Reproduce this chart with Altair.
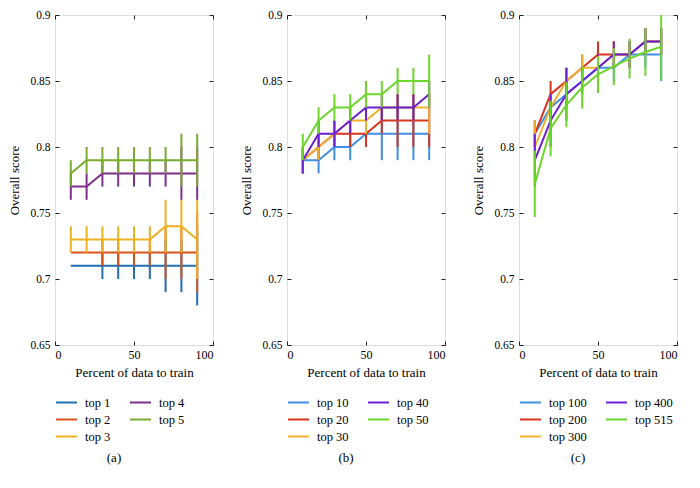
import altair as alt
import pandas as pd

FONT = "Liberation Serif, serif"

x_pct = [10, 20, 30, 40, 50, 60, 70, 80, 90]

# ---------- panel (a)
a_series = ["top 1", "top 2", "top 3", "top 4", "top 5"]
a_colors = ["#1f6fb5", "#d95319", "#edb120", "#7e2f8e", "#77ac30"]
a_mean = {
    "top 1": [0.71, 0.71, 0.71, 0.71, 0.71, 0.71, 0.71, 0.71, 0.71],
    "top 2": [0.72, 0.72, 0.72, 0.72, 0.72, 0.72, 0.72, 0.72, 0.72],
    "top 3": [0.73, 0.73, 0.73, 0.73, 0.73, 0.73, 0.74, 0.74, 0.73],
    "top 4": [0.77, 0.77, 0.78, 0.78, 0.78, 0.78, 0.78, 0.78, 0.78],
    "top 5": [0.78, 0.79, 0.79, 0.79, 0.79, 0.79, 0.79, 0.79, 0.79],
}
a_err = {
    "top 1": [0.0, 0.0, 0.01, 0.01, 0.01, 0.01, 0.02, 0.02, 0.03],
    "top 2": [0.0, 0.0, 0.01, 0.01, 0.01, 0.01, 0.02, 0.02, 0.03],
    "top 3": [0.01, 0.01, 0.01, 0.01, 0.01, 0.01, 0.02, 0.02, 0.03],
    "top 4": [0.01, 0.01, 0.01, 0.01, 0.01, 0.01, 0.01, 0.02, 0.02],
    "top 5": [0.01, 0.01, 0.01, 0.01, 0.01, 0.01, 0.01, 0.02, 0.02],
}

# ---------- panel (b)
b_series = ["top 10", "top 20", "top 30", "top 40", "top 50"]
b_colors = ["#3f8fe4", "#d8331c", "#f0b032", "#6b1fd0", "#6cd62b"]
b_mean = {
    "top 10": [0.79, 0.79, 0.80, 0.80, 0.81, 0.81, 0.81, 0.81, 0.81],
    "top 20": [0.79, 0.80, 0.81, 0.81, 0.81, 0.82, 0.82, 0.82, 0.82],
    "top 30": [0.79, 0.80, 0.81, 0.82, 0.82, 0.83, 0.83, 0.83, 0.83],
    "top 40": [0.79, 0.81, 0.81, 0.82, 0.83, 0.83, 0.83, 0.83, 0.84],
    "top 50": [0.80, 0.82, 0.83, 0.83, 0.84, 0.84, 0.85, 0.85, 0.85],
}
b_err = {
    "top 10": [0.01, 0.01, 0.01, 0.01, 0.01, 0.02, 0.02, 0.02, 0.02],
    "top 20": [0.01, 0.01, 0.01, 0.01, 0.01, 0.01, 0.02, 0.02, 0.02],
    "top 30": [0.01, 0.01, 0.01, 0.01, 0.01, 0.01, 0.01, 0.01, 0.02],
    "top 40": [0.01, 0.01, 0.01, 0.01, 0.01, 0.01, 0.01, 0.01, 0.01],
    "top 50": [0.01, 0.01, 0.01, 0.01, 0.01, 0.01, 0.01, 0.01, 0.02],
}

# ---------- panel (c)
c_series = ["top 100", "top 200", "top 300", "top 400", "top 515"]
c_colors = ["#3f8fe4", "#d8331c", "#f0b032", "#6b1fd0", "#6cd62b"]
c_mean = {
    "top 100": [0.81, 0.83, 0.84, 0.85, 0.86, 0.86, 0.87, 0.87, 0.87],
    "top 200": [0.81, 0.84, 0.85, 0.86, 0.87, 0.87, 0.87, 0.88, 0.88],
    "top 300": [0.80, 0.83, 0.85, 0.86, 0.86, 0.87, 0.87, 0.88, 0.88],
    "top 400": [0.79, 0.82, 0.84, 0.85, 0.86, 0.87, 0.87, 0.88, 0.88],
    "top 515": [0.772, 0.814, 0.832, 0.845, 0.855, 0.861, 0.867, 0.872, 0.876],
}
c_err = {
    "top 100": [0.01, 0.01, 0.01, 0.01, 0.01, 0.01, 0.01, 0.01, 0.02],
    "top 200": [0.01, 0.01, 0.01, 0.01, 0.01, 0.01, 0.01, 0.01, 0.01],
    "top 300": [0.02, 0.01, 0.01, 0.01, 0.01, 0.01, 0.01, 0.01, 0.01],
    "top 400": [0.02, 0.02, 0.02, 0.01, 0.01, 0.01, 0.01, 0.01, 0.01],
    "top 515": [0.025, 0.021, 0.017, 0.016, 0.014, 0.014, 0.015, 0.018, 0.025],
}

x_ticks = [0, 50, 100]
y_ticks = [0.65, 0.7, 0.75, 0.8, 0.85, 0.9]


def make_df(series, mean, err):
    rows = []
    for s in series:
        for x, m, e in zip(x_pct, mean[s], err[s]):
            rows.append({"pct": x, "series": s, "score": m, "lo": m - e, "hi": m + e})
    return pd.DataFrame(rows)


def panel(series, colors, mean, err, caption):
    df = make_df(series, mean, err)
    xscale = alt.Scale(domain=[0, 100], nice=False)
    yscale = alt.Scale(domain=[0.65, 0.9], nice=False, zero=False)
    color = alt.Color(
        "series:N",
        scale=alt.Scale(domain=series, range=colors),
        legend=alt.Legend(
            orient="none", legendX=5, legendY=381, columns=2, title=None,
            symbolType="M-2,0H2", symbolSize=110, symbolStrokeWidth=2,
            labelFont=FONT, labelFontSize=12.5, labelColor="#000",
            labelOffset=12, columnPadding=15, rowPadding=4,
        ),
    )
    axis_common = dict(domain=False, ticks=True, tickSize=4, offset=-4,
                       tickColor="#222", grid=False)
    bottom = alt.Axis(orient="bottom", values=x_ticks, title="Percent of data to train",
                      labelFont=FONT, labelFontSize=12, labelColor="#000", labelPadding=4,
                      titleFont=FONT, titleFontSize=13, titleFontWeight="normal",
                      titleColor="#000", titlePadding=6, **axis_common)
    left = alt.Axis(orient="left", values=y_ticks, format="~g", title="Overall score",
                    labelFont=FONT, labelFontSize=11.5, labelColor="#000", labelPadding=5,
                    titleFont=FONT, titleFontSize=13, titleFontWeight="normal",
                    titleColor="#000", titlePadding=8, **axis_common)
    top = alt.Axis(orient="top", values=x_ticks, labels=False, title=None, **axis_common)
    right = alt.Axis(orient="right", values=y_ticks, labels=False, title=None, **axis_common)

    base = alt.Chart(df)
    frame1 = base.mark_rule(opacity=0).encode(
        x=alt.X("pct:Q", scale=xscale, axis=bottom),
        y=alt.Y("score:Q", scale=yscale, axis=left),
        color=color,
    )
    frame2 = base.mark_rule(opacity=0).encode(
        x=alt.X("pct:Q", scale=xscale, axis=top),
        y=alt.Y("score:Q", scale=yscale, axis=right),
        color=color,
    )
    layers = [frame1, frame2]
    for s in series:
        sub = base.transform_filter(alt.datum.series == s)
        layers.append(sub.mark_rule(strokeWidth=2, clip=True).encode(
            x=alt.X("pct:Q", scale=xscale, axis=None),
            y=alt.Y("lo:Q", scale=yscale, axis=None),
            y2="hi:Q",
            color=color,
        ))
        layers.append(sub.mark_line(strokeWidth=2, clip=True).encode(
            x=alt.X("pct:Q", scale=xscale, axis=None),
            y=alt.Y("score:Q", scale=yscale, axis=None),
            color=color,
        ))
    return alt.layer(*layers).properties(
        width=158, height=330,
        title=alt.TitleParams(caption, orient="bottom", anchor="middle", frame="group",
                              dx=-20, offset=9, font=FONT, fontSize=13,
                              fontWeight="normal", color="#000"),
    )


pa = panel(a_series, a_colors, a_mean, a_err, "(a)")
pb = panel(b_series, b_colors, b_mean, b_err, "(b)")
pc = panel(c_series, c_colors, c_mean, c_err, "(c)")

chart = alt.hconcat(pa, pb, pc, spacing=26).resolve_scale(color="independent").properties(
    padding={"left": 0, "top": 0, "right": 0, "bottom": 0}
).configure_view(stroke="#222", strokeWidth=1).configure(background="white", font=FONT)

chart.save("out.html", embed_options={"renderer": "svg", "actions": False})
